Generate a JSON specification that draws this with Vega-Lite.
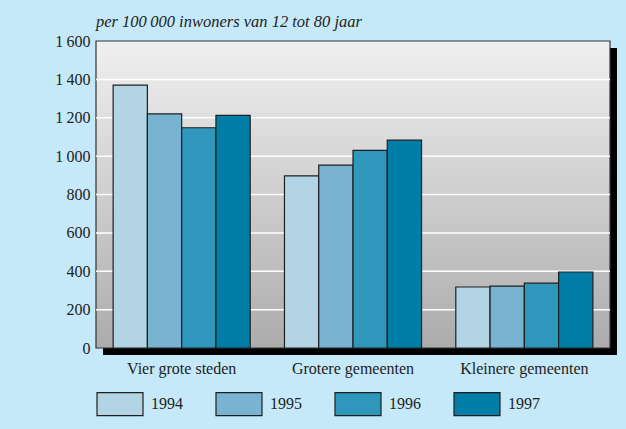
{
  "$schema": "https://vega.github.io/schema/vega-lite/v6.json",
  "width": 514,
  "height": 307,
  "autosize": {"type": "none"},
  "padding": {"left": 96, "top": 41, "right": 16, "bottom": 81},
  "background": "#c6e9f9",
  "title": {
    "text": "per 100\u2009000 inwoners van 12 tot 80 jaar",
    "anchor": "start",
    "frame": "group",
    "font": "Liberation Serif",
    "fontSize": 16.5,
    "fontStyle": "italic",
    "fontWeight": "normal",
    "color": "#222222",
    "offset": 3
  },
  "datasets": {
    "bars": [
      {"gebied": "Vier grote steden", "jaar": "1994", "waarde": 1370},
      {"gebied": "Vier grote steden", "jaar": "1995", "waarde": 1220},
      {"gebied": "Vier grote steden", "jaar": "1996", "waarde": 1148},
      {"gebied": "Vier grote steden", "jaar": "1997", "waarde": 1212},
      {"gebied": "Grotere gemeenten", "jaar": "1994", "waarde": 897},
      {"gebied": "Grotere gemeenten", "jaar": "1995", "waarde": 953},
      {"gebied": "Grotere gemeenten", "jaar": "1996", "waarde": 1030},
      {"gebied": "Grotere gemeenten", "jaar": "1997", "waarde": 1083},
      {"gebied": "Kleinere gemeenten", "jaar": "1994", "waarde": 318},
      {"gebied": "Kleinere gemeenten", "jaar": "1995", "waarde": 322},
      {"gebied": "Kleinere gemeenten", "jaar": "1996", "waarde": 338},
      {"gebied": "Kleinere gemeenten", "jaar": "1997", "waarde": 396}
    ],
    "grid": [
      {"g": 200}, {"g": 400}, {"g": 600}, {"g": 800}, {"g": 1000}, {"g": 1200}, {"g": 1400}
    ],
    "one": [{"k": 1}]
  },
  "layer": [
    {
      "data": {"name": "one"},
      "mark": {"type": "rect", "fill": "#000000", "xOffset": 7, "x2Offset": 7, "yOffset": 7, "y2Offset": 7},
      "encoding": {
        "x": {"value": 0},
        "x2": {"value": "width"},
        "y": {"value": 0},
        "y2": {"value": "height"}
      }
    },
    {
      "data": {"name": "one"},
      "mark": {
        "type": "rect",
        "stroke": "#333333",
        "strokeWidth": 1.2,
        "fill": {
          "gradient": "linear",
          "x1": 0, "y1": 0, "x2": 0, "y2": 1,
          "stops": [
            {"offset": 0, "color": "#f0f0f0"},
            {"offset": 1, "color": "#acacac"}
          ]
        }
      },
      "encoding": {
        "x": {"value": 0},
        "x2": {"value": "width"},
        "y": {"value": 0},
        "y2": {"value": "height"}
      }
    },
    {
      "data": {"name": "grid"},
      "mark": {"type": "rule", "color": "#ffffff", "strokeWidth": 1.5},
      "encoding": {
        "y": {
          "field": "g",
          "type": "quantitative",
          "scale": {"domain": [0, 1600], "nice": false},
          "axis": {
            "title": null,
            "values": [0, 200, 400, 600, 800, 1000, 1200, 1400, 1600],
            "labelExpr": "replace(format(datum.value, ','), ',', '\u2009')",
            "labelOverlap": false,
            "ticks": false,
            "domain": false,
            "grid": false,
            "labelPadding": 6,
            "labelFontSize": 16,
            "labelFont": "Liberation Serif",
            "labelColor": "#222222"
          }
        }
      }
    },
    {
      "data": {"name": "bars"},
      "mark": {"type": "bar", "stroke": "#1e1e1e", "strokeWidth": 1.2},
      "encoding": {
        "x": {
          "field": "gebied",
          "type": "nominal",
          "sort": ["Vier grote steden", "Grotere gemeenten", "Kleinere gemeenten"],
          "scale": {"paddingInner": 0.2, "paddingOuter": 0.1},
          "axis": {"title": null, "labelAngle": 0, "ticks": false, "domain": false, "labelPadding": 12, "labelFontSize": 16, "labelFont": "Liberation Serif", "labelColor": "#222222"}
        },
        "xOffset": {"field": "jaar", "type": "nominal", "scale": {"paddingInner": 0, "paddingOuter": 0}},
        "y": {
          "field": "waarde",
          "type": "quantitative",
          "scale": {"domain": [0, 1600], "nice": false},
          "axis": {
            "title": null,
            "values": [0, 200, 400, 600, 800, 1000, 1200, 1400, 1600],
            "labelExpr": "replace(format(datum.value, ','), ',', '\u2009')",
            "labelOverlap": false,
            "ticks": false,
            "domain": false,
            "grid": false,
            "labelPadding": 6,
            "labelFontSize": 16,
            "labelFont": "Liberation Serif",
            "labelColor": "#222222"
          }
        },
        "fill": {
          "field": "jaar",
          "type": "nominal",
          "scale": {"domain": ["1994", "1995", "1996", "1997"], "range": ["#b3d4e5", "#78b4d1", "#2f97bb", "#007ea7"]},
          "legend": {
            "title": null,
            "orient": "bottom",
            "direction": "horizontal",
            "columns": 4,
            "symbolType": "M-1,-0.5H1V0.5H-1Z",
            "symbolSize": 2116,
            "symbolStrokeColor": "#1e1e1e",
            "symbolStrokeWidth": 1.2,
            "symbolOpacity": 1,
            "labelFontSize": 16,
            "labelFont": "Liberation Serif",
            "labelColor": "#222222",
            "labelOffset": 7,
            "columnPadding": 30,
            "offset": 4,
            "padding": 0
          }
        }
      }
    }
  ],
  "config": {
    "view": {"stroke": null},
    "font": "Liberation Serif"
  }
}
